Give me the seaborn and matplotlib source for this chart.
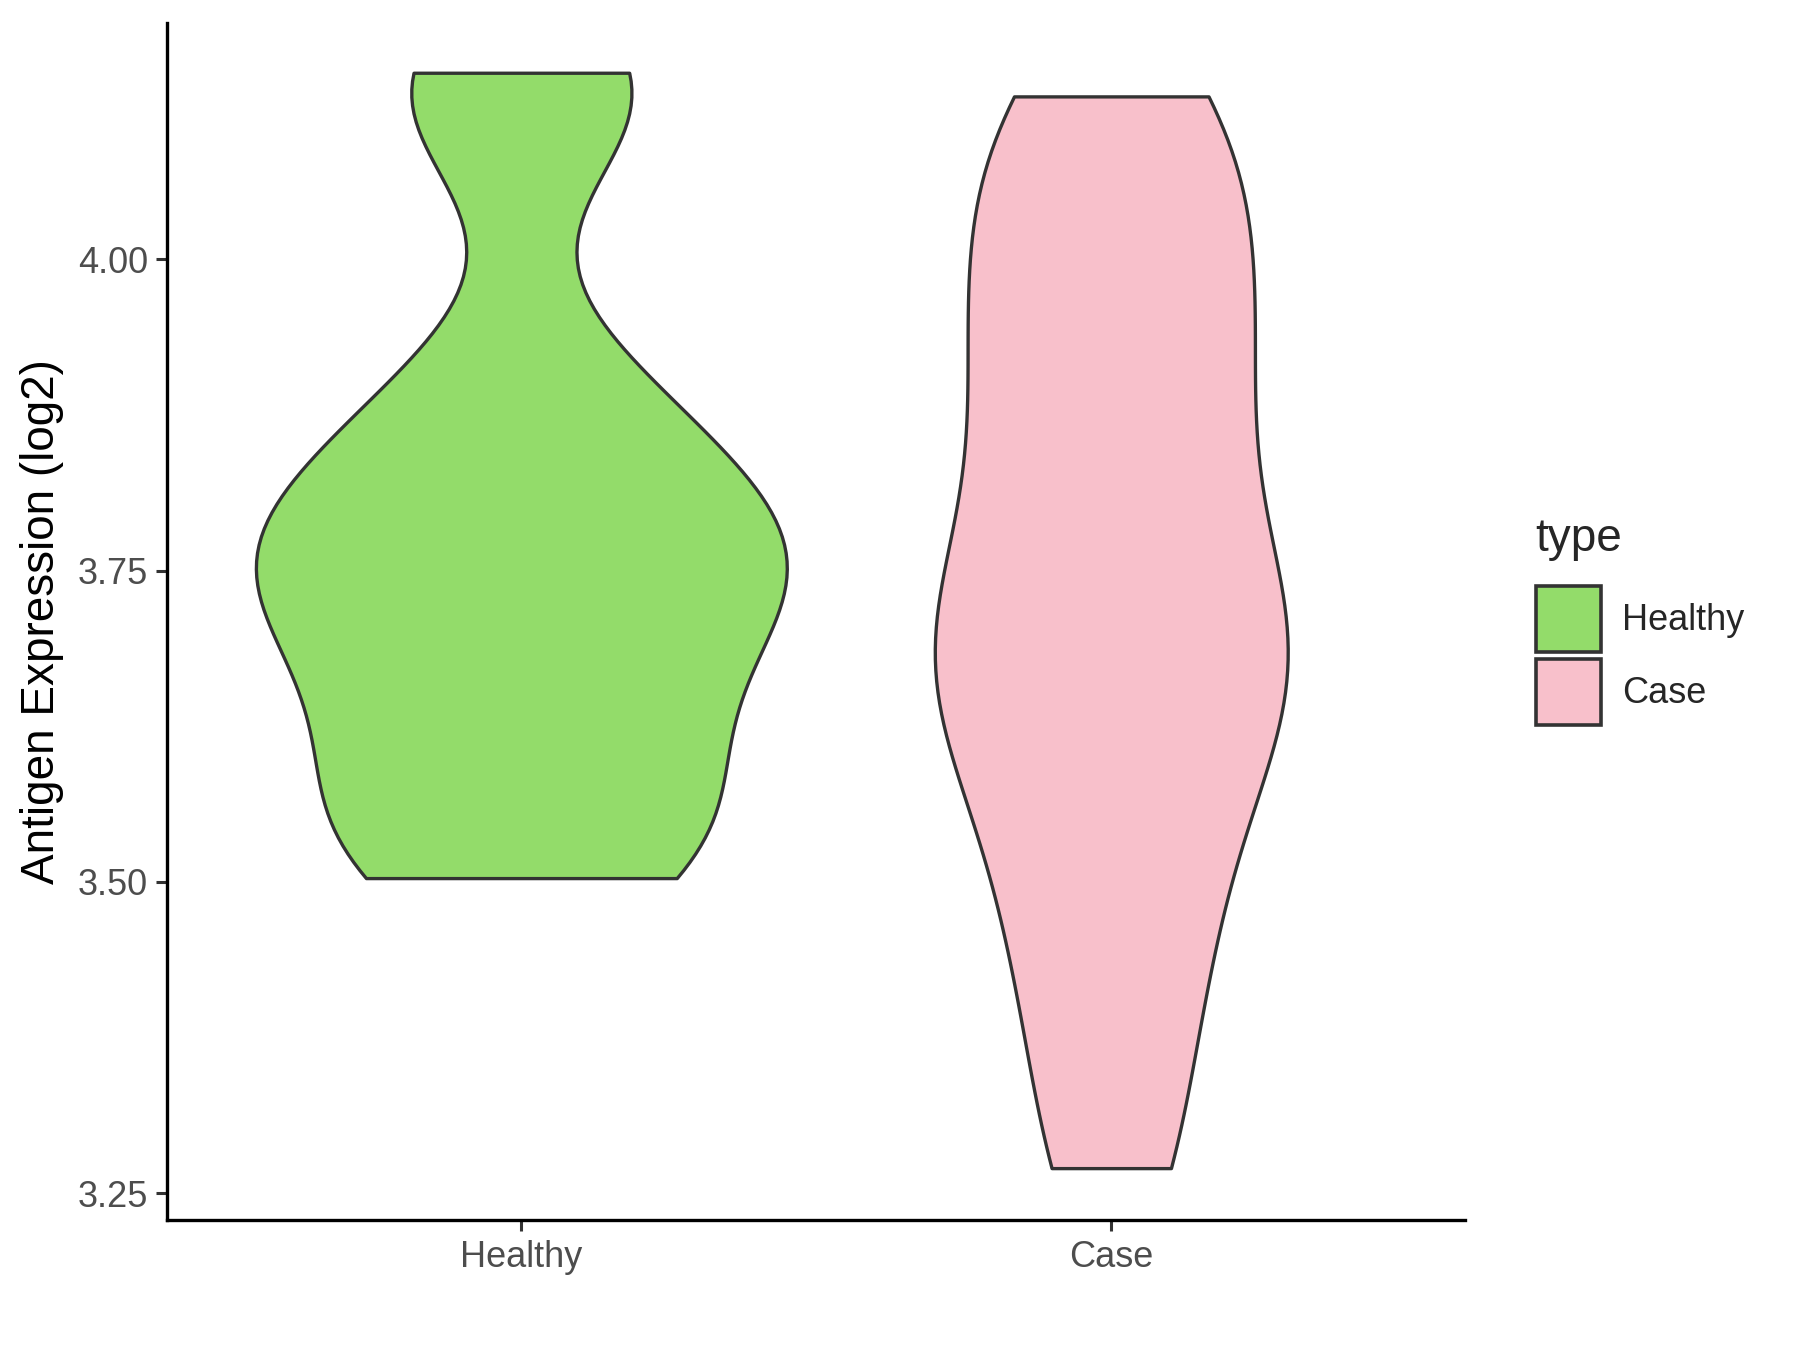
import numpy as np
import pandas as pd
import matplotlib
matplotlib.use('Agg')
import matplotlib.pyplot as plt
import seaborn as sns
from matplotlib.patches import Patch

# values (log2 expression)
healthy = [3.503, 3.53, 3.58, 3.64, 3.70, 3.74, 3.76, 3.79, 3.84, 3.90, 4.12, 4.15]
case = [3.27, 3.39, 3.48, 3.56, 3.62, 3.67, 3.70, 3.75, 3.82, 3.89, 3.95, 4.01,
        4.08, 4.131]
groups = ['Healthy', 'Case']
colors = ['#93DC6A', '#F8C0CB']

data = pd.DataFrame({
    'type': ['Healthy'] * len(healthy) + ['Case'] * len(case),
    'value': healthy + case,
})

sns.set_style('white')
plt.rcParams['font.family'] = ['Liberation Sans', 'DejaVu Sans']

fig = plt.figure(figsize=(18, 13.5), dpi=100)
ax = fig.add_axes([0.093, 0.096, 0.721, 0.887])

sns.violinplot(data=data, x='type', y='value', hue='type', order=groups,
               hue_order=groups, palette=colors, saturation=1, cut=0,
               inner=None, density_norm='area', common_norm=True, width=0.9,
               bw_adjust=0.6, linewidth=2.4, linecolor='#333333',
               legend=False, ax=ax)

ax.set_xlim(-0.6, 1.6)
ax.set_ylim(3.228, 4.19)
ax.set_yticks([3.25, 3.50, 3.75, 4.00])
ax.set_yticklabels(['3.25', '3.50', '3.75', '4.00'])
ax.set_xlabel('')
ax.set_ylabel('Antigen Expression (log2)', fontsize=33, color='black',
              labelpad=10)
ax.tick_params(axis='both', labelsize=26, labelcolor='#4D4D4D', length=8,
               width=2.2, color='#333333', left=True, bottom=True, pad=6)
for side in ['top', 'right']:
    ax.spines[side].set_visible(False)
for side in ['left', 'bottom']:
    ax.spines[side].set_linewidth(2.4)
    ax.spines[side].set_color('black')

handles = [Patch(facecolor=c, edgecolor='#333333', linewidth=2.6, label=g)
           for g, c in zip(groups, colors)]
leg = fig.legend(handles=handles, title='type', loc='center left',
                 bbox_to_anchor=(0.835, 0.54), frameon=False, fontsize=26,
                 title_fontsize=33, handlelength=1.8, handleheight=2.45,
                 labelspacing=0.2, handletextpad=0.6)
leg._legend_box.align = 'left'
leg._legend_box.sep = 18

fig.savefig('out.png', dpi=100)
